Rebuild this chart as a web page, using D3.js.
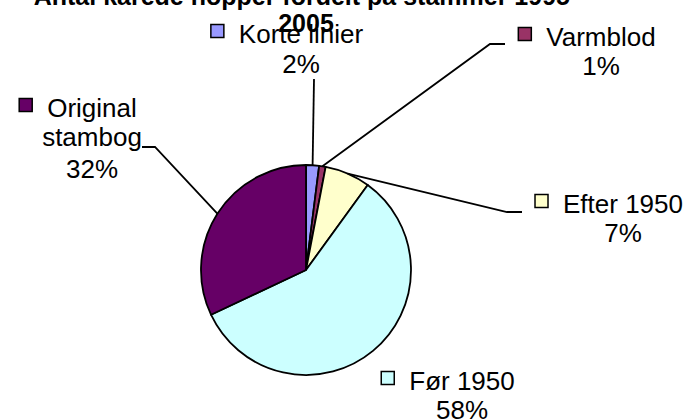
<!DOCTYPE html>
<html>
<head>
<meta charset="utf-8">
<script src="https://cdn.jsdelivr.net/npm/d3@7"></script>
<style>
  body { margin: 0; background: #fff; }
  text { font-family: "Liberation Sans", Arial, sans-serif; fill: #000; }
</style>
</head>
<body>
<svg id="chart"></svg>
<script>
// data
const titleLines = ['Antal kårede hopper fordelt på stammer 1995-', '2005']
const categories = ['Korte linier', 'Varmblod', 'Efter 1950', 'Før 1950', 'Original stambog']
const shares = [2, 1, 7, 58, 32]
const colors = ['#9999FF', '#993366', '#FFFFCC', '#CCFFFF', '#660066']

// label layout: text lines, centre x, baselines, leader elbow points
const labelLines = [['Korte linier'], ['Varmblod'], ['Efter 1950'], ['Før 1950'], ['Original', 'stambog']]
const labelLayout = [
  {cx: 301, ys: [43, 73], leader: [[314, 79]]},
  {cx: 601, ys: [46, 75], leader: [[490, 44], [505, 44]]},
  {cx: 623, ys: [213, 242], leader: [[507, 212], [522, 212]]},
  {cx: 462, ys: [390, 419], leader: null},
  {cx: 92, ys: [117, 146, 178], leader: [[155, 147], [142, 147]]}
]

const [width, height] = [699, 420]
const [cx, cy, radius] = [306, 270, 105]
const fontSize = 26
const keySize = 13

const svg = d3.select('#chart').attr('width', width).attr('height', height)

const pie = d3.pie().sort(null).value(d => d)
const arcs = pie(shares)
const arc = d3.arc().innerRadius(0).outerRadius(radius)

const pieGroup = svg.append('g').attr('transform', `translate(${cx},${cy})`)
pieGroup.selectAll('path')
  .data(arcs)
  .join('path')
  .attr('d', arc)
  .attr('fill', (d, i) => colors[i])
  .attr('stroke', '#000')
  .attr('stroke-width', 1.8)
  .attr('stroke-linejoin', 'round')

//leader lines start on the rim at the slice's middle angle
const line = d3.line()
arcs.forEach((a, i) => {
  const lay = labelLayout[i]
  if (!lay.leader) return
  const mid = (a.startAngle + a.endAngle) / 2
  const rim = [cx + radius * Math.sin(mid), cy - radius * Math.cos(mid)]
  svg.append('path')
    .attr('d', line([rim, ...lay.leader]))
    .attr('fill', 'none')
    .attr('stroke', '#000')
    .attr('stroke-width', 1.8)
})

// title (top line is clipped by the window like in the original)
svg.append('g').selectAll('text')
  .data(titleLines)
  .join('text')
  .attr('x', 306)
  .attr('y', (d, i) => [5, 32][i])
  .attr('text-anchor', 'middle')
  .attr('font-weight', 'bold')
  .attr('font-size', 25)
  .text(d => d)

// data labels: name lines + percent, legend key in front of the first line
categories.forEach((name, i) => {
  const lay = labelLayout[i]
  const lines = [...labelLines[i], shares[i] + '%']
  const g = svg.append('g')
  const texts = g.selectAll('text')
    .data(lines)
    .join('text')
    .attr('x', lay.cx)
    .attr('y', (d, j) => lay.ys[j])
    .attr('text-anchor', 'middle')
    .attr('font-size', fontSize)
    .text(d => d)
  const firstLen = texts.node().getComputedTextLength()
  g.append('rect')
    .attr('x', lay.cx - firstLen / 2 - 28)
    .attr('y', lay.ys[0] - 18.5)
    .attr('width', keySize)
    .attr('height', keySize)
    .attr('fill', colors[i])
    .attr('stroke', '#000')
    .attr('stroke-width', 1.5)
})
</script>
</body>
</html>
